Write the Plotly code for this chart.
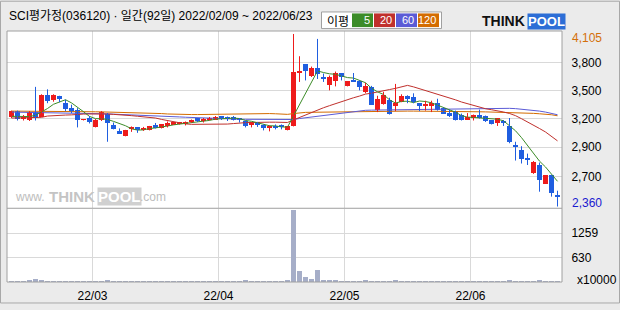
import plotly.graph_objects as go

# ---------------- data ----------------
opens = [3265, 3325, 3250, 3230, 3315, 3270, 3485, 3435, 3475, 3405,
         3355, 3340, 3235, 3255, 3160, 3230, 3300, 3180, 3120, 3075,
         3145, 3160, 3140, 3130, 3180, 3150, 3180, 3190, 3200, 3200,
         3215, 3255, 3220, 3235, 3235, 3275, 3265, 3265, 3250, 3225,
         3190, 3210, 3180, 3150, 3170, 3185, 3130, 3170, 3710, 3800,
         3685, 3760, 3670, 3585, 3625, 3710, 3575, 3625, 3625, 3515,
         3570, 3335, 3400, 3440, 3380, 3420, 3475, 3465, 3405, 3380,
         3380, 3405, 3355, 3305, 3325, 3290, 3235, 3265, 3285, 3275,
         3230, 3200, 3210, 3175, 2985, 2930, 2855, 2700, 2775, 2590,
         2675, 2465]
highs = [3330, 3330, 3285, 3325, 3570, 3495, 3545, 3495, 3480, 3440,
         3390, 3355, 3245, 3275, 3245, 3325, 3305, 3210, 3150, 3135,
         3170, 3160, 3165, 3175, 3205, 3190, 3220, 3210, 3215, 3220,
         3240, 3255, 3255, 3265, 3275, 3275, 3270, 3275, 3255, 3230,
         3215, 3215, 3190, 3180, 3190, 3190, 3170, 4105, 3880, 3800,
         3775, 4055, 3705, 3685, 3725, 3710, 3625, 3710, 3635, 3610,
         3580, 3480, 3520, 3460, 3600, 3495, 3485, 3505, 3405, 3430,
         3430, 3450, 3360, 3340, 3330, 3300, 3305, 3290, 3340, 3280,
         3230, 3255, 3235, 3255, 3015, 2970, 2895, 2820, 2805, 2675,
         2680, 2520]
lows = [3255, 3230, 3230, 3225, 3230, 3265, 3405, 3420, 3415, 3325,
        3305, 3160, 3230, 3200, 3160, 3225, 3015, 3140, 3095, 3070,
        3115, 3105, 3125, 3130, 3150, 3150, 3160, 3185, 3190, 3180,
        3205, 3215, 3210, 3230, 3235, 3235, 3225, 3230, 3210, 3160,
        3160, 3165, 3130, 3120, 3140, 3140, 3130, 3170, 3620, 3635,
        3670, 3650, 3620, 3535, 3575, 3635, 3575, 3620, 3535, 3505,
        3390, 3315, 3390, 3290, 3325, 3415, 3405, 3405, 3325, 3330,
        3315, 3330, 3300, 3265, 3230, 3230, 3235, 3230, 3250, 3215,
        3190, 3175, 3175, 3000, 2825, 2795, 2780, 2690, 2510, 2590,
        2460, 2360]
closes = [3325, 3250, 3270, 3315, 3255, 3485, 3430, 3485, 3450, 3350,
          3325, 3230, 3240, 3210, 3240, 3315, 3200, 3140, 3100, 3130,
          3160, 3135, 3150, 3170, 3160, 3190, 3200, 3210, 3205, 3205,
          3230, 3220, 3245, 3255, 3270, 3250, 3250, 3245, 3235, 3170,
          3210, 3180, 3150, 3175, 3160, 3160, 3170, 3725, 3735, 3735,
          3760, 3700, 3645, 3670, 3710, 3670, 3625, 3620, 3570, 3575,
          3390, 3445, 3485, 3300, 3410, 3475, 3455, 3415, 3380, 3385,
          3410, 3340, 3300, 3285, 3235, 3235, 3265, 3285, 3265, 3220,
          3190, 3255, 3205, 3010, 2970, 2845, 2840, 2815, 2625, 2675,
          2500, 2460]
ma5 = [3272, 3270, 3268, 3270, 3283, 3315, 3351, 3394, 3421, 3440,
       3408, 3368, 3319, 3271, 3249, 3247, 3241, 3221, 3199, 3177,
       3146, 3133, 3135, 3149, 3155, 3161, 3174, 3186, 3193, 3202,
       3210, 3214, 3221, 3231, 3244, 3248, 3254, 3254, 3250, 3230,
       3222, 3208, 3189, 3177, 3175, 3165, 3163, 3278, 3390, 3505,
       3625, 3731, 3715, 3702, 3697, 3679, 3664, 3659, 3639, 3612,
       3556, 3520, 3493, 3439, 3406, 3423, 3425, 3411, 3427, 3422,
       3409, 3386, 3363, 3344, 3314, 3279, 3264, 3261, 3257, 3254,
       3245, 3243, 3227, 3176, 3126, 3057, 2974, 2896, 2819, 2760,
       2691, 2615]
ma20 = [3255, 3255, 3256, 3257, 3258, 3262, 3275, 3280, 3283, 3285,
        3287, 3293, 3295, 3296, 3297, 3298, 3296, 3292, 3289, 3287,
        3279, 3273, 3267, 3260, 3255, 3241, 3229, 3215, 3203, 3196,
        3191, 3191, 3191, 3193, 3195, 3191, 3194, 3199, 3206, 3208,
        3210, 3213, 3213, 3213, 3213, 3211, 3210, 3236, 3262, 3289,
        3315, 3339, 3359, 3380, 3402, 3423, 3442, 3460, 3477, 3497,
        3506, 3520, 3536, 3543, 3555, 3571, 3585, 3570, 3552, 3534,
        3517, 3499, 3482, 3462, 3439, 3417, 3399, 3382, 3367, 3349,
        3339, 3330, 3316, 3301, 3279, 3248, 3217, 3187, 3149, 3114,
        3068, 3024]
ma60 = [3315, 3314, 3314, 3313, 3313, 3313, 3312, 3312, 3311, 3310,
        3309, 3307, 3305, 3303, 3301, 3299, 3297, 3294, 3292, 3290,
        3288, 3286, 3284, 3281, 3278, 3275, 3272, 3269, 3266, 3263,
        3260, 3257, 3254, 3251, 3249, 3247, 3245, 3244, 3243, 3242,
        3241, 3240, 3239, 3238, 3237, 3236, 3235, 3240, 3250, 3258,
        3265, 3272, 3280, 3288, 3298, 3306, 3315, 3322, 3329, 3333,
        3335, 3336, 3337, 3338, 3338, 3339, 3340, 3340, 3341, 3341,
        3342, 3343, 3345, 3347, 3349, 3350, 3352, 3354, 3355, 3356,
        3356, 3356, 3355, 3353, 3350, 3345, 3340, 3333, 3325, 3315,
        3303, 3288]
ma120 = [3325, 3325, 3324, 3324, 3323, 3323, 3323, 3322, 3322, 3321,
         3321, 3320, 3320, 3319, 3318, 3317, 3316, 3315, 3313, 3310,
         3308, 3306, 3305, 3304, 3303, 3300, 3296, 3293, 3291, 3290,
         3290, 3290, 3291, 3292, 3294, 3298, 3300, 3301, 3302, 3302,
         3302, 3302, 3301, 3300, 3298, 3296, 3292, 3300, 3308, 3312,
         3313, 3314, 3315, 3316, 3318, 3320, 3322, 3323, 3324, 3324,
         3325, 3325, 3325, 3325, 3325, 3325, 3325, 3325, 3325, 3325,
         3325, 3324, 3324, 3323, 3322, 3321, 3320, 3319, 3318, 3317,
         3316, 3315, 3313, 3311, 3309, 3307, 3305, 3302, 3298, 3294,
         3288, 3278]
volumes = [50, 48, 50, 52, 100, 55, 50, 48, 50, 48,
           50, 48, 50, 48, 50, 48, 55, 50, 48, 50,
           48, 50, 48, 50, 48, 50, 48, 50, 48, 50,
           48, 50, 48, 50, 48, 50, 48, 50, 48, 55,
           48, 50, 48, 50, 48, 50, 55, 1864, 300, 135,
           100, 330, 75, 55, 75, 50, 48, 50, 48, 55,
           50, 48, 50, 48, 75, 50, 48, 50, 48, 50,
           48, 50, 48, 50, 48, 50, 48, 50, 48, 50,
           48, 50, 48, 75, 50, 48, 50, 48, 55, 50,
           48, 50]

price_tick_vals = [3816, 3530, 3247, 2961, 2665]
price_tick_text = ["3,800", "3,500", "3,200", "2,900", "2,700"]
vol_tick_vals = [630, 1259]
vol_tick_text = ["630", "1259"]
month_tick_vals = [13.5, 34.5, 55.5, 76.5]
month_tick_text = ["22/03", "22/04", "22/05", "22/06"]
max_price, min_price = 4105, 2360
title_text = "SCI평가정(036120) · 일간(92일) 2022/02/09 ~ 2022/06/23"
ma_names = ["5", "20", "60", "120"]

# ---------------- styling ----------------
UP = "#ee1b1b"
DOWN = "#1f5ee0"
MA_COLORS = ["#3c8c28", "#c0302c", "#5b5bd6", "#d46c00"]
GRID = "#d9d9d9"
FRAME = "#a0a0a0"
NUM_FONT = "Liberation Sans, Noto Sans CJK KR, sans-serif"

n = len(closes)
idx = list(range(n))

fig = go.Figure()

# moving averages (behind the candles)
for vals, col in zip([ma120, ma60, ma20, ma5], MA_COLORS[::-1]):
    fig.add_trace(go.Scatter(x=idx, y=vals, mode="lines",
                             line=dict(color=col, width=1), yaxis="y",
                             hoverinfo="skip"))

# candles
for is_up, col in [(True, UP), (False, DOWN)]:
    sel = [i for i in idx if (closes[i] >= opens[i]) == is_up]
    wx, wy = [], []
    for i in sel:
        wx += [i, i, None]
        wy += [lows[i], highs[i], None]
    fig.add_trace(go.Scatter(x=wx, y=wy, mode="lines",
                             line=dict(color=col, width=1), yaxis="y",
                             hoverinfo="skip"))
    fig.add_trace(go.Bar(x=sel,
                         base=[min(opens[i], closes[i]) for i in sel],
                         y=[max(abs(closes[i] - opens[i]), 10) for i in sel],
                         width=0.8, marker=dict(color=col, line=dict(width=0)),
                         yaxis="y", hoverinfo="skip"))

# volume
fig.add_trace(go.Bar(x=idx, y=volumes, width=0.78, yaxis="y2",
                     marker=dict(color="#a6aec8", line=dict(width=0)),
                     hoverinfo="skip"))

# ---------------- layout ----------------
L, R, T, B = 7, 58, 31, 22
W, H = 620, 310
PW, PH = W - L - R, H - T - B


def px_x(x):
    return (x - L) / PW


def px_y(y):
    return (H - B - y) / PH


price_bottom = 212.5
fig.update_layout(
    width=W, height=H,
    margin=dict(l=L, r=R, t=T, b=B, pad=0),
    paper_bgcolor="#ebebeb", plot_bgcolor="#ffffff",
    showlegend=False, barmode="overlay", bargap=0,
    font=dict(family=NUM_FONT, size=12, color="#000000"),
    xaxis=dict(range=[-0.75, 91.75], tickvals=month_tick_vals,
               ticktext=month_tick_text, showgrid=True, gridcolor=GRID,
               gridwidth=1, zeroline=False, showline=False, anchor="y2",
               ticks="outside", ticklen=3, tickcolor="rgba(0,0,0,0)",
               tickfont=dict(size=12, color="#000000", family=NUM_FONT),
               fixedrange=True),
    yaxis=dict(domain=[px_y(price_bottom) + 0.001, 1], range=[2345, 4135],
               side="right", tickvals=price_tick_vals,
               ticktext=price_tick_text, showgrid=True, gridcolor=GRID,
               zeroline=False, showline=False, ticks="outside", ticklen=6,
               tickcolor="rgba(0,0,0,0)",
               tickfont=dict(size=12, color="#000000", family=NUM_FONT)),
    yaxis2=dict(domain=[0, px_y(price_bottom) - 0.001], range=[0, 1889],
                side="right", tickvals=vol_tick_vals, ticktext=vol_tick_text,
                showgrid=True, gridcolor=GRID, zeroline=False, showline=False,
                ticks="outside", ticklen=6, tickcolor="rgba(0,0,0,0)",
                tickfont=dict(size=12, color="#000000", family=NUM_FONT)),
)

shapes = [
    # outer border of the whole image
    dict(type="rect", xref="paper", yref="paper",
         x0=px_x(0.5), x1=px_x(619.5), y0=px_y(309.5), y1=px_y(0.5),
         line=dict(color="#a8a8a8", width=1), layer="below"),
    # plot frame
    dict(type="rect", xref="paper", yref="paper", x0=0, x1=1, y0=0, y1=1,
         line=dict(color=FRAME, width=1)),
    # separator between price and volume panels
    dict(type="line", xref="paper", yref="paper", x0=0, x1=1,
         y0=px_y(price_bottom), y1=px_y(price_bottom),
         line=dict(color=FRAME, width=1)),
    # legend box
    dict(type="rect", xref="paper", yref="paper",
         x0=px_x(321.5), x1=px_x(441.5), y0=px_y(28.5), y1=px_y(11.5),
         fillcolor="#ffffff", line=dict(color="#a0a0a0", width=1)),
]
box_x = [(352, 373), (374, 395), (396, 417), (418, 439)]
annotations = []
for (x0, x1), col, name in zip(box_x, MA_COLORS, ma_names):
    shapes.append(dict(type="rect", xref="paper", yref="paper",
                       x0=px_x(x0), x1=px_x(x1), y0=px_y(27), y1=px_y(13),
                       fillcolor=col, line=dict(width=0)))
    annotations.append(dict(xref="paper", yref="paper", x=px_x(x1 - 1.5),
                            y=px_y(20), xanchor="right", yanchor="middle",
                            text=name, showarrow=False,
                            font=dict(size=11, color="#ffffff",
                                      family="Liberation Sans Narrow, Liberation Sans")))

annotations += [
    dict(xref="paper", yref="paper", x=px_x(7), y=px_y(15.5), xanchor="left",
         yanchor="middle", text=title_text, showarrow=False,
         font=dict(size=12, color="#000000", family=NUM_FONT)),
    dict(xref="paper", yref="paper", x=px_x(338), y=px_y(20),
         xanchor="center", yanchor="middle", text="이평", showarrow=False,
         font=dict(size=12, color="#000000", family="Noto Sans CJK KR")),
    # logo
    dict(xref="paper", yref="paper", x=px_x(527), y=px_y(21),
         xanchor="right", yanchor="middle", text="<b>THINK</b>",
         showarrow=False,
         font=dict(size=14, color="#111111", family="Liberation Sans")),
    dict(xref="paper", yref="paper", x=px_x(527), y=px_y(21),
         xanchor="left", yanchor="middle", text="<b>POOL</b>",
         showarrow=False, bgcolor="#2d6ed6", borderpad=0,
         font=dict(size=13, color="#ffffff", family="Liberation Sans")),
    # watermark
    dict(xref="paper", yref="paper", x=px_x(47), y=px_y(201),
         xanchor="right", yanchor="middle", text="www.", showarrow=False,
         font=dict(size=12, color="#bdbdbd", family="Liberation Sans")),
    dict(xref="paper", yref="paper", x=px_x(47), y=px_y(200),
         xanchor="left", yanchor="middle", text="<b>THINK</b>",
         showarrow=False,
         font=dict(size=15, color="#c4c4c4", family="Liberation Sans")),
    dict(xref="paper", yref="paper", x=px_x(97), y=px_y(200),
         xanchor="left", yanchor="middle", text="<b>POOL</b>",
         showarrow=False, bgcolor="#d0d0d0", borderpad=0,
         font=dict(size=15, color="#ffffff", family="Liberation Sans")),
    dict(xref="paper", yref="paper", x=px_x(138), y=px_y(201),
         xanchor="left", yanchor="middle", text=".com", showarrow=False,
         font=dict(size=12, color="#bdbdbd", family="Liberation Sans")),
    # max / min labels
    dict(xref="paper", yref="y", x=px_x(570), y=max_price, yshift=-4,
         xanchor="left", yanchor="middle", text="4,105", showarrow=False,
         font=dict(size=12, color="#d4700a", family=NUM_FONT)),
    dict(xref="paper", yref="y", x=px_x(570), y=min_price, yshift=4,
         xanchor="left", yanchor="middle", text="2,360", showarrow=False,
         font=dict(size=12, color="#1a1ad0", family=NUM_FONT)),
    # volume unit
    dict(xref="paper", yref="paper", x=px_x(575), y=px_y(286),
         xanchor="left", yanchor="middle", text="x10000", showarrow=False,
         font=dict(size=12, color="#000000", family=NUM_FONT)),
]
fig.update_layout(shapes=shapes, annotations=annotations)

fig.write_html("out.html")
